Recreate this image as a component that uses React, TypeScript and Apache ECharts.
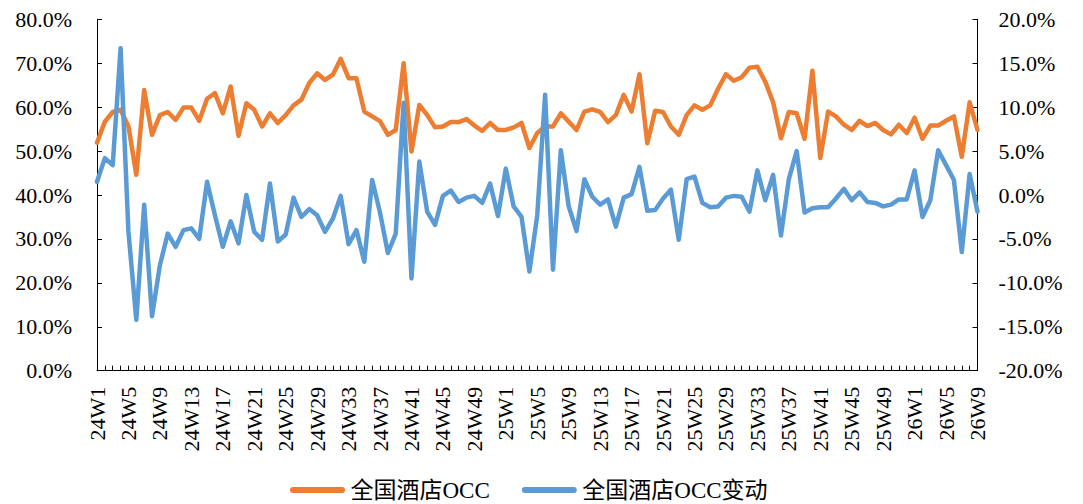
import React, { useEffect, useRef } from "react";
import * as echarts from "echarts";

const years = [
  { y: "24", n: 52 },
  { y: "25", n: 52 },
  { y: "26", n: 9 },
];
const categories: string[] = [];
years.forEach(({ y, n }) => {
  for (let w = 1; w <= n; w++) categories.push(`${y}W${w}`);
});

const occ = [
  51.9, 56.7, 58.9, 59.4, 55.6, 44.6, 63.9, 53.7, 58.2, 58.9,
  57.1, 59.9, 59.9, 56.9, 61.9, 63.2, 58.6, 64.7, 53.5, 60.9,
  59.4, 55.6, 58.6, 56.4, 58.2, 60.4, 61.7, 65.5, 67.7, 66.2,
  67.4, 71.0, 66.6, 66.6, 59.0, 57.9, 56.8, 53.7, 54.8, 70.0,
  49.9, 60.5, 58.2, 55.4, 55.6, 56.6, 56.6, 57.3, 55.8, 54.6,
  56.4, 54.8, 54.8, 55.4, 56.4, 50.7, 54.1, 55.6, 55.6, 58.6,
  56.7, 54.8, 59.0, 59.5, 58.9, 56.6, 58.2, 62.8, 59.0, 67.5,
  51.8, 59.2, 58.9, 55.6, 53.7, 58.2, 60.4, 59.4, 60.4, 64.2,
  67.5, 66.0, 66.8, 69.0, 69.2, 65.8, 61.1, 52.9, 58.9, 58.6,
  52.8, 68.3, 48.4, 59.0, 57.9, 56.0, 54.8, 56.9, 55.7, 56.4,
  54.8, 53.8, 56.0, 54.1, 57.6, 52.8, 55.8, 55.8, 56.9, 57.9,
  48.7, 61.1, 54.8,
];

const occChange = [
  1.5, 4.2, 3.4, 16.7, -4.2, -14.2, -1.1, -13.8, -8.0, -4.4,
  -5.9, -4.0, -3.8, -5.0, 1.5, -2.3, -5.9, -3.0, -5.5, 0.0,
  -4.2, -5.1, 1.3, -5.3, -4.5, -0.3, -2.5, -1.6, -2.3, -4.2,
  -2.7, -0.1, -5.6, -4.0, -7.6, 1.7, -2.0, -6.6, -4.4, 10.5,
  -9.5, 3.8, -1.9, -3.4, -0.1, 0.5, -0.8, -0.3, -0.1, -0.9,
  1.3, -2.4, 3.0, -1.3, -2.5, -8.7, -2.3, 11.4, -8.5, 5.1,
  -1.3, -4.1, 1.8, -0.2, -1.1, -0.5, -3.6, -0.3, 0.1, 3.2,
  -1.8, -1.7, -0.4, 0.6, -5.1, 1.8, 2.1, -0.9, -1.4, -1.3,
  -0.3, -0.1, -0.2, -1.9, 2.8, -0.6, 2.3, -4.6, 1.8, 5.0,
  -2.0, -1.5, -1.4, -1.4, -0.4, 0.7, -0.6, 0.3, -0.8, -0.9,
  -1.3, -1.1, -0.5, -0.5, 2.8, -2.5, -0.6, 5.1, 3.4, 1.7,
  -6.5, 2.4, -1.9,
];

const seriesNames = ["全国酒店OCC", "全国酒店OCC变动"];
const colors = ["#ED7D31", "#5B9BD5"];

const FONT = "'Liberation Serif', 'Times New Roman', 'Noto Sans CJK SC', serif";
const pct = (v: number) => `${v.toFixed(1)}%`;
const capsule = "path://M3,0 L52,0 A3,3 0 0 1 52,6 L3,6 A3,3 0 0 1 3,0 Z";

export default function App() {
  const ref = useRef<HTMLDivElement>(null);
  useEffect(() => {
    if (!ref.current) return;
    const chart = echarts.init(ref.current, null, { renderer: "svg" });
    const axisCommon = {
      axisLine: { show: true, lineStyle: { color: "#000", width: 1 } },
      axisTick: { show: true, inside: true, length: 5, lineStyle: { color: "#000" } },
      splitLine: { show: false },
    };
    chart.setOption({
      animation: false,
      backgroundColor: "#fff",
      textStyle: { fontFamily: FONT, color: "#000" },
      grid: { left: 97, right: 105.5, top: 19.3, bottom: 133.3, containLabel: false },
      legend: {
        left: 290,
        top: 475,
        padding: 0,
        itemWidth: 56,
        itemHeight: 6,
        itemGap: 32,
        icon: capsule,
        textStyle: { fontFamily: FONT, fontSize: 23, color: "#000", lineHeight: 30 },
        data: seriesNames.map((n, i) => ({ name: n, itemStyle: { color: colors[i] } })),
      },
      xAxis: {
        type: "category",
        data: categories,
        boundaryGap: false,
        ...axisCommon,
        axisTick: { show: true, inside: true, length: 5, interval: 0, lineStyle: { color: "#000" } },
        axisLabel: {
          interval: 3,
          rotate: 90,
          margin: 16,
          fontSize: 22,
          fontFamily: FONT,
          color: "#000",
        },
      },
      yAxis: [
        {
          type: "value",
          min: 0,
          max: 80,
          interval: 10,
          position: "left",
          ...axisCommon,
          axisLabel: { formatter: pct, fontSize: 22, fontFamily: FONT, color: "#000", margin: 25 },
        },
        {
          type: "value",
          min: -20,
          max: 20,
          interval: 5,
          position: "right",
          ...axisCommon,
          axisLabel: { formatter: pct, fontSize: 22, fontFamily: FONT, color: "#000", margin: 21 },
        },
      ],
      series: [
        {
          name: seriesNames[0],
          type: "line",
          data: occ,
          yAxisIndex: 0,
          showSymbol: false,
          symbol: "none",
          lineStyle: { color: colors[0], width: 4.5, join: "round", cap: "round" },
          itemStyle: { color: colors[0] },
        },
        {
          name: seriesNames[1],
          type: "line",
          data: occChange,
          yAxisIndex: 1,
          showSymbol: false,
          symbol: "none",
          lineStyle: { color: colors[1], width: 4.5, join: "round", cap: "round" },
          itemStyle: { color: colors[1] },
        },
      ],
    });
    return () => chart.dispose();
  }, []);
  return (
    <div
      ref={ref}
      style={{ position: "fixed", left: 0, top: 0, width: 1083, height: 504, background: "#fff" }}
    />
  );
}
